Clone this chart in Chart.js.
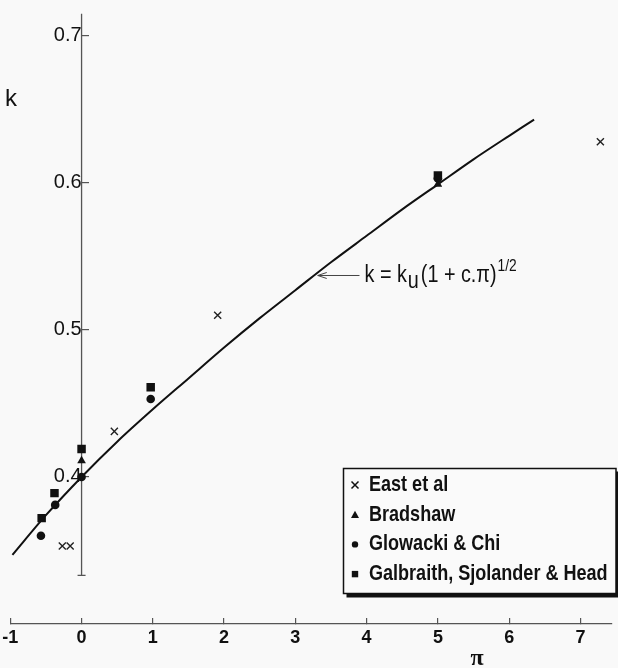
<!DOCTYPE html>
<html>
<head>
<meta charset="utf-8">
<script src="https://cdn.jsdelivr.net/npm/chart.js@4.4.1/dist/chart.umd.min.js"></script>
<style>
  body { margin: 0; background: #f9f9f9; }
  #wrap { width: 618px; height: 668px; position: relative; }
</style>
</head>
<body>
<div id="wrap"><canvas id="myChart"></canvas></div>
<script>
// tick values
var xTicks = [-1, 0, 1, 2, 3, 4, 5, 6, 7];
var yTicks = [0.4, 0.5, 0.6, 0.7];

// East et al
var eastX = [-0.27, -0.16, 0.46, 1.91, 7.28];
var eastY = [0.353, 0.353, 0.431, 0.510, 0.628];
// Bradshaw
var bradX = [0, 5];
var bradY = [0.411, 0.599];
// Glowacki & Chi
var glowX = [-0.57, -0.37, 0, 0.97, 5];
var glowY = [0.360, 0.381, 0.400, 0.453, 0.603];
// Galbraith, Sjolander & Head
var galbX = [-0.56, -0.38, 0, 0.97, 5];
var galbY = [0.372, 0.389, 0.419, 0.461, 0.605];
// fitted curve k = ku (1 + c.pi)^1/2
var curveX = [-0.97, -0.5, 0, 0.5, 1, 1.5, 2, 2.5, 3, 3.5, 4, 4.5, 5, 5.5, 6, 6.35];
var curveY = [0.347, 0.374, 0.400, 0.424, 0.446, 0.467, 0.488, 0.508, 0.527, 0.546, 0.564, 0.582, 0.599, 0.616, 0.632, 0.643];

var legendNames = ['East et al', 'Bradshaw', 'Glowacki & Chi', 'Galbraith, Sjolander & Head'];

var SANS = '"Liberation Sans", Arial, sans-serif';
var SQUEEZE = 0.82;   // no narrow face installed, so squeeze text by hand

function pts(xs, ys) {
    return xs.map(function (v, i) { return {x: v, y: ys[i]}; });
}

// draw condensed text, return its width
function narrowText(ctx, text, x, y, sq) {
    sq = sq || SQUEEZE;
    ctx.save();
    ctx.translate(x, y);
    ctx.scale(sq, 1);
    ctx.fillText(text, 0, 0);
    ctx.restore();
    return ctx.measureText(text).width * sq;
}

function marker(ctx, style, x, y, r) {
    ctx.beginPath();
    if (style === 'cross') {
        ctx.lineWidth = 1.5;
        ctx.moveTo(x - r, y - r); ctx.lineTo(x + r, y + r);
        ctx.moveTo(x - r, y + r); ctx.lineTo(x + r, y - r);
        ctx.stroke();
    } else if (style === 'tri') {
        ctx.moveTo(x, y - r); ctx.lineTo(x + r, y + r * 0.8); ctx.lineTo(x - r, y + r * 0.8);
        ctx.closePath(); ctx.fill();
    } else if (style === 'circle') {
        ctx.arc(x, y, r, 0, Math.PI * 2); ctx.fill();
    } else {
        ctx.rect(x - r, y - r, 2 * r, 2 * r); ctx.fill();
    }
}

var extras = {
    id: 'extras',
    beforeDatasetsDraw: function (chart) {
        var ctx = chart.ctx, xs = chart.scales.x, ys = chart.scales.y;
        var x0 = xs.getPixelForValue(0);
        var top = ys.getPixelForValue(0.715), bot = ys.getPixelForValue(0.333);
        ctx.save();
        ctx.strokeStyle = '#555';
        ctx.lineWidth = 1.3;
        ctx.beginPath();
        ctx.moveTo(x0, top); ctx.lineTo(x0, bot);
        ctx.moveTo(x0 - 4, bot); ctx.lineTo(x0 + 4, bot);
        ctx.stroke();
        ctx.restore();
    },
    afterDraw: function (chart) {
        var ctx = chart.ctx, xs = chart.scales.x, ys = chart.scales.y;
        ctx.save();
        ctx.fillStyle = '#111';
        ctx.strokeStyle = '#111';
        ctx.textBaseline = 'middle';

        // axis names
        ctx.font = '24px ' + SANS;
        ctx.textAlign = 'center';
        ctx.fillText('k', 11, 99);
        ctx.font = 'bold 24px "Liberation Serif", serif';
        ctx.fillText('\u03c0', 477, 659);

        // formula label with arrow
        var tipX = xs.getPixelForValue(3.3), tipY = ys.getPixelForValue(0.537);
        var endX = xs.getPixelForValue(3.9);
        ctx.strokeStyle = '#444';
        ctx.lineWidth = 1;
        ctx.beginPath();
        ctx.moveTo(tipX + 1, tipY); ctx.lineTo(endX, tipY);
        ctx.moveTo(tipX + 10, tipY - 3); ctx.lineTo(tipX + 1, tipY); ctx.lineTo(tipX + 10, tipY + 3);
        ctx.stroke();
        ctx.textAlign = 'left';
        var tx = endX + 5;
        ctx.font = '23px ' + SANS;
        tx += narrowText(ctx, 'k = k', tx, tipY, 0.86) + 1;
        tx += narrowText(ctx, 'u', tx, tipY + 6, 0.86) + 2;
        tx += narrowText(ctx, '(1 + c.\u03c0)', tx, tipY, 0.86) + 1;
        ctx.font = '16px ' + SANS;
        narrowText(ctx, '1/2', tx, tipY - 9, 0.86);

        // legend box
        var bx = 343.5, by = 468.5, bw = 272.5, bh = 125;
        ctx.fillStyle = '#111';
        ctx.fillRect(bx + 3, by + 3, bw, bh + 1);
        ctx.fillStyle = '#fafafa';
        ctx.fillRect(bx, by, bw, bh);
        ctx.strokeStyle = '#111';
        ctx.lineWidth = 1.5;
        ctx.strokeRect(bx, by, bw, bh);
        var styles = ['cross', 'tri', 'circle', 'rect'];
        var sizes = [3.5, 4, 3.2, 3.2];
        ctx.fillStyle = '#111';
        ctx.font = 'bold 22px ' + SANS;
        for (var i = 0; i < legendNames.length; i++) {
            var ly = 485 + i * 29.7;
            marker(ctx, styles[i], 355, ly, sizes[i]);
            narrowText(ctx, legendNames[i], 369, ly);
        }
        ctx.restore();
    }
};

var ctx = document.getElementById('myChart').getContext('2d');
var myChart = new Chart(ctx, {
    type: 'scatter',
    data: {
        datasets: [
            {label: legendNames[0], data: pts(eastX, eastY), pointStyle: 'crossRot', pointRadius: 5,
             borderColor: '#222', pointBorderWidth: 1.4, backgroundColor: '#222'},
            {label: legendNames[1], data: pts(bradX, bradY), pointStyle: 'triangle', pointRadius: 5,
             borderColor: '#111', backgroundColor: '#111', pointBorderWidth: 0},
            {label: legendNames[2], data: pts(glowX, glowY), pointStyle: 'circle', pointRadius: 4.3,
             borderColor: '#111', backgroundColor: '#111', pointBorderWidth: 0},
            {label: legendNames[3], data: pts(galbX, galbY), pointStyle: 'rect', pointRadius: 6,
             borderColor: '#111', backgroundColor: '#111', pointBorderWidth: 0},
            {label: 'curve', data: pts(curveX, curveY), showLine: true, pointRadius: 0,
             borderColor: '#111', borderWidth: 2, tension: 0.3, order: 10}
        ]
    },
    options: {
        responsive: true,
        maintainAspectRatio: false,
        animation: false,
        layout: {padding: {left: 10.3, right: 0, top: 0, bottom: 0}},
        plugins: {
            legend: {display: false},
            tooltip: {enabled: false}
        },
        scales: {
            x: {
                type: 'linear',
                position: 'bottom',
                min: -1,
                max: 7.4375,
                border: {color: '#555', width: 1.3},
                grid: {drawOnChartArea: false, tickLength: -6, color: '#555', lineWidth: 1.2},
                ticks: {padding: 9, color: '#111', font: {family: SANS, size: 18, weight: 'bold'}},
                afterBuildTicks: function (s) { s.ticks = xTicks.map(function (v) { return {value: v}; }); },
                afterFit: function (s) { s.height = 44; s.paddingLeft = 0; s.paddingRight = 0; }
            },
            y: {
                type: 'linear',
                position: {x: 0},
                min: 0.30,
                max: 0.72,
                border: {display: false},
                grid: {drawOnChartArea: false, tickLength: -7, color: '#555', lineWidth: 1.2},
                ticks: {padding: 14, color: '#111', font: {family: SANS, size: 20},
                        callback: function (v) { return v.toFixed(1); }},
                afterBuildTicks: function (s) { s.ticks = yTicks.map(function (v) { return {value: v}; }); },
                afterFit: function (s) { s.width = 0; s.paddingTop = 0; s.paddingBottom = 0; }
            }
        }
    },
    plugins: [extras]
});
</script>
</body>
</html>
